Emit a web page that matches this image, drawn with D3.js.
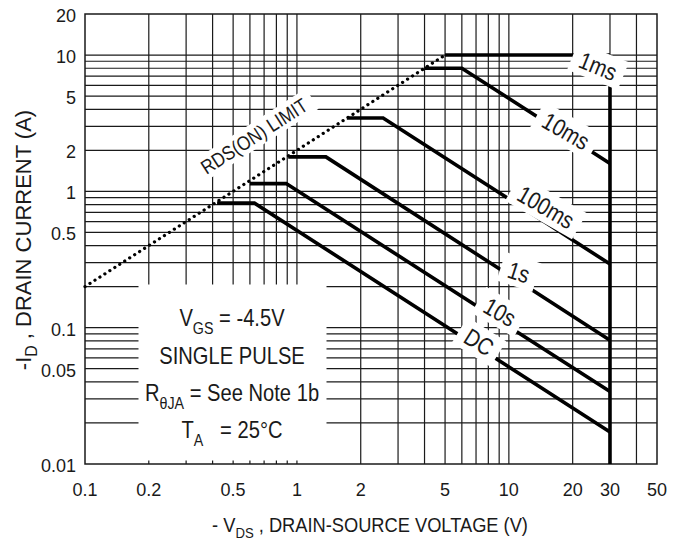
<!DOCTYPE html>
<html><head><meta charset="utf-8">
<script src="https://cdn.jsdelivr.net/npm/d3@7"></script>
<style>
body{margin:0;background:#fff}
svg{display:block}
text{font-family:"Liberation Sans",Arial,Helvetica,sans-serif;fill:#1a1a1a}
</style>
</head><body>
<svg id="chart" width="683" height="542"></svg>
<script>
// ---------- data ----------
const xTickLabels = [0.1, 0.2, 0.5, 1, 2, 5, 10, 20, 30, 50];
const yTickLabels = [0.01, 0.05, 0.1, 0.5, 1, 2, 5, 10, 20];
const xGridValues = [0.2,0.3,0.4,0.5,0.6,0.7,0.8,0.9,1,2,3,4,5,6,7,8,9,10,20,30,40];
const yGridValues = [0.02,0.03,0.04,0.05,0.06,0.07,0.08,0.09,0.1,0.2,0.3,0.4,0.5,0.6,0.7,0.8,0.9,1,2,3,4,5,6,7,8,9,10];
const rdsLimit = [[0.1, 0.2], [5, 10]];
const curve1ms   = [[5, 10], [30, 10]];
const curve10ms  = [[4.0, 8.0], [6.0, 8.0], [30, 1.6]];
const curve100ms = [[1.72, 3.45], [2.55, 3.45], [30, 0.293]];
const curve1s    = [[0.91, 1.79], [1.37, 1.79], [30, 0.081]];
const curve10s   = [[0.60, 1.14], [0.89, 1.14], [30, 0.034]];
const curveDC    = [[0.42, 0.82], [0.63, 0.82], [30, 0.0172]];
const vdsLimit   = [[30, 10], [30, 0.01]];
const curveSeries = [curve1ms, curve10ms, curve100ms, curve1s, curve10s, curveDC, vdsLimit];
const curveLabels = ["1ms", "10ms", "100ms", "1s", "10s", "DC"];

// ---------- layout ----------
const svg = d3.select("#chart");
const L = 85, R = 657, T = 14, B = 464;
const x = d3.scaleLog().domain([0.1, 50]).range([L, R]);
const y = d3.scaleLog().domain([0.01, 20]).range([B, T]);

// grid
const grid = svg.append("g").attr("stroke", "#1a1a1a").attr("stroke-width", 1.2);
grid.selectAll("line.v").data(xGridValues).join("line")
  .attr("x1", d => x(d)).attr("x2", d => x(d)).attr("y1", T).attr("y2", B);
grid.selectAll("line.h").data(yGridValues).join("line")
  .attr("y1", d => y(d)).attr("y2", d => y(d)).attr("x1", L).attr("x2", R);

// white box behind the conditions text block
svg.append("rect").attr("x", 138.5).attr("y", 284.5).attr("width", 188).attr("height", 176)
  .attr("fill", "#fff");

// frame
svg.append("rect").attr("x", L).attr("y", T).attr("width", R - L).attr("height", B - T)
  .attr("fill", "none").attr("stroke", "#1a1a1a").attr("stroke-width", 1.5);

// curves
const line = d3.line().x(d => x(d[0])).y(d => y(d[1]));
svg.append("g").selectAll("path").data(curveSeries).join("path")
  .attr("d", line).attr("fill", "none").attr("stroke", "#000")
  .attr("stroke-width", 3.6).attr("stroke-linejoin", "miter");

svg.append("path").datum(rdsLimit).attr("d", line).attr("fill", "none")
  .attr("stroke", "#000").attr("stroke-width", 3.2).attr("stroke-linecap", "round")
  .attr("stroke-dasharray", "0.1,5.8");

// helper for squeezed, rotated text with white box
function placeText(parent, cx, cy, rot, size, sx, str, box) {
  const g = parent.append("g").attr("transform", `translate(${cx},${cy}) rotate(${rot})`);
  const r = box ? g.append("rect").attr("fill", "#fff") : null;
  const inner = g.append("g").attr("transform", `scale(${sx},1)`);
  const t = inner.append("text").attr("text-anchor", "middle").attr("dy", "0.36em")
    .attr("font-size", size).text(str);
  if (box) {
    const w = t.node().getComputedTextLength() * sx;
    r.attr("x", -w / 2 - box[0]).attr("width", w + 2 * box[0])
     .attr("y", -box[1] / 2).attr("height", box[1]);
  }
  return g;
}

// curve labels
const labelLayer = svg.append("g");
const labelPos = [
  [598, 66, 22], [566, 131, 30], [546, 207, 30], [519, 272, 18], [500, 312, 30], [479, 342, 32]
];
curveLabels.forEach((s, i) => {
  const p = labelPos[i];
  placeText(labelLayer, p[0], p[1], p[2], 24, 0.85, s, [8, 30]);
});
placeText(labelLayer, 254, 136, -32.7, 20, 0.86, "RDS(ON) LIMIT", [8, 24]);

// tick labels
svg.append("g").selectAll("text").data(xTickLabels).join("text")
  .attr("x", d => x(d)).attr("y", 490).attr("dy", "0.36em")
  .attr("text-anchor", "middle").attr("font-size", 18).text(d => d);
svg.append("g").selectAll("text").data(yTickLabels).join("text")
  .attr("x", 76).attr("y", d => y(d) + 1.5).attr("dy", "0.36em")
  .attr("text-anchor", "end").attr("font-size", 18).text(d => d);

// text with subscripts: parts = [text, subscript?]
function richText(t, size, subSize, shift, parts) {
  t.attr("font-size", size).attr("xml:space", "preserve");
  let cur = 0;
  parts.forEach(p => {
    const ts = t.append("tspan").text(p[0]);
    const want = p[1] ? shift : 0;
    if (p[1]) ts.attr("font-size", subSize);
    if (want !== cur) { ts.attr("dy", want - cur); cur = want; }
  });
}

// conditions text block
const cond = svg.append("g").attr("transform", "translate(232,0) scale(0.84,1)");
function condLine(yb, parts) {
  const t = cond.append("text").attr("x", 0).attr("y", yb).attr("text-anchor", "middle");
  richText(t, 24, 17, 8, parts);
}
condLine(326.5, [["V"], ["GS", 1], ["\u00a0= -4.5V"]]);
condLine(364.5, [["SINGLE PULSE"]]);
condLine(401.5, [["R"], ["\u03b8JA", 1], ["\u00a0= See Note 1b"]]);
condLine(438, [["T"], ["A", 1], ["\u00a0\u00a0 = 25\u00b0C"]]);

// axis titles
function title(cx, cy, rot, size, sx, parts) {
  const g = svg.append("g").attr("transform", `translate(${cx},${cy}) rotate(${rot}) scale(${sx},1)`);
  const t = g.append("text").attr("text-anchor", "middle");
  richText(t, size, size * 0.72, 6, parts);
}
title(370, 532, 0, 21, 0.87, [["- V"], ["DS", 1], [" , DRAIN-SOURCE VOLTAGE (V)"]]);
title(31, 240, -90, 22, 1.0, [["-I"], ["D", 1], [" , DRAIN CURRENT (A)"]]);
</script>
</body></html>
